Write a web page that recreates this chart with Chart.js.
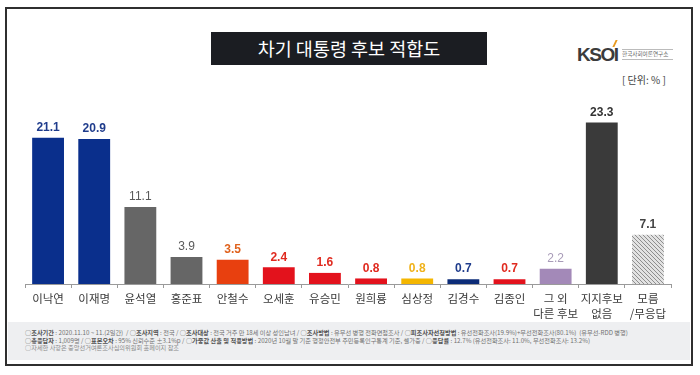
<!DOCTYPE html>
<html>
<head>
<meta charset="utf-8">
<script src="https://cdn.jsdelivr.net/npm/chart.js@4.4.1/dist/chart.umd.min.js"></script>
<style>
    body { margin: 0; width: 700px; height: 375px; background: #ffffff; overflow: hidden; font-family: "Noto Sans CJK KR", sans-serif; }
    #frame { position: absolute; left: 5px; top: 7px; width: 684px; height: 355px; border: 2px solid #2f2f2f; background: #ffffff; }
    #title { position: absolute; left: 211px; top: 32px; width: 276px; height: 33px; background: #1b1d22; color: #ffffff; font-size: 18.5px; line-height: 33px; text-align: center; }
    #logo { position: absolute; left: 577px; top: 45px; height: 20px; }
    #logo .big { position: absolute; left: 0; top: 0; font-family: "Liberation Sans", sans-serif; font-weight: bold; font-size: 19px; line-height: 19px; color: #3b3b3b; letter-spacing: -1.5px; }
    #logo .acc { position: absolute; left: 37px; top: -5px; width: 2px; height: 7px; background: #e89a1e; transform: skewX(-25deg); }
    #logo .small { position: absolute; left: 45px; top: 4px; width: 51px; font-size: 5.6px; line-height: 9px; color: #666666; border-top: 1px solid #bbbbbb; border-bottom: 1px solid #bbbbbb; white-space: nowrap; overflow: hidden; }
    #unit { position: absolute; left: 622px; top: 72px; font-size: 10px; color: #444444; }
    #footer { position: absolute; left: 8px; top: 322px; width: 682px; height: 38px; background: #eeeff1; }
    #footer div { position: absolute; left: 17px; font-size: 6.2px; line-height: 7px; color: #707070; white-space: nowrap; }
    #footer b { color: #505050; }
    #chart { position: absolute; left: 0; top: 0; }
</style>
</head>
<body>
<div id="frame"></div>
<div id="title">차기 대통령 후보 적합도</div>
<div id="logo"><span class="big">KSOI</span><span class="acc"></span><span class="small">한국사회여론연구소</span></div>
<div id="unit">[ 단위: % ]</div>
<div id="footer">
    <div style="top:7px">○<b>조사기간</b> : 2020.11.10 ~ 11.(2일간) &nbsp;/ ○<b>조사지역</b> : 전국 / ○<b>조사대상</b> : 전국 거주 만 18세 이상 성인남녀 / ○<b>조사방법</b> : 유무선 병행 전화면접조사 / ○<b>피조사자선정방법</b> : 유선전화조사(19.9%)+무선전화조사(80.1%) &nbsp;(유무선-RDD 병행)</div>
    <div style="top:14.5px">○<b>총응답자</b> : 1,009명 / ○<b>표본오차</b> : 95% 신뢰수준 ±3.1%p / ○<b>가중값 산출 및 적용방법</b> : 2020년 10월 말 기준 행정안전부 주민등록인구통계 기준, 셀가중 / ○<b>응답률</b> : 12.7% (유선전화조사: 11.0%, 무선전화조사: 13.2%)</div>
    <div style="top:22px; color:#8a8a8a">○자세한 사항은 중앙선거여론조사심의위원회 홈페이지 참조</div>
</div>
<canvas id="chart" width="700" height="375"></canvas>
<script>
// Data
const CANDIDATES = ["이낙연", "이재명", "윤석열", "홍준표", "안철수", "오세훈", "유승민",
                    "원희룡", "심상정", "김경수", "김종인", ["그 외", "다른 후보"], ["지지후보", "없음"], ["모름", "/무응답"]];
const FITNESS = [21.1, 20.9, 11.1, 3.9, 3.5, 2.4, 1.6, 0.8, 0.8, 0.7, 0.7, 2.2, 23.3, 7.1];

// Colors
const COLOR_BLUE    = "#0a2f8c";
const COLOR_GREY    = "#666666";
const COLOR_ORANGE  = "#e8400f";
const COLOR_RED     = "#e3121c";
const COLOR_YELLOW  = "#f4b600";
const COLOR_NAVY    = "#0c2c78";
const COLOR_PURPLE  = "#a389b8";
const COLOR_DARK    = "#3a3a3a";

// hatched fill for the last bar
function makeHatch() {
    var c = document.createElement("canvas");
    c.width = 4;
    c.height = 4;
    var ctx = c.getContext("2d");
    ctx.fillStyle = "#e2e2e2";
    ctx.fillRect(0, 0, 4, 4);
    ctx.fillStyle = "#8e8e8e";
    ctx.fillRect(0, 0, 1, 1);
    ctx.fillRect(2, 2, 1, 1);
    ctx.fillRect(1, 1, 1, 1);
    ctx.fillRect(3, 3, 1, 1);
    return ctx.createPattern(c, "repeat");
}

// value labels above bars
const valueLabels = {
    id: "valueLabels",
    afterDatasetsDraw(chart) {
        var ctx = chart.ctx;
        var meta = chart.getDatasetMeta(0);
        var ds = chart.data.datasets[0];
        ctx.save();
        ctx.textAlign = "center";
        ctx.textBaseline = "middle";
        meta.data.forEach(function (bar, i) {
            ctx.fillStyle = ds.labelColors[i];
            ctx.font = ds.labelBold[i] ? "bold 12px 'Liberation Sans'" : "12px 'Liberation Sans'";
            ctx.fillText(FITNESS[i].toFixed(1), bar.x, bar.y - 10);
        });
        ctx.restore();
    }
};

function createFitnessChart(canvasId) {
    var barColors = [COLOR_BLUE, COLOR_BLUE, COLOR_GREY, COLOR_GREY, COLOR_ORANGE, COLOR_RED, COLOR_RED,
                     COLOR_RED, COLOR_YELLOW, COLOR_NAVY, COLOR_RED, COLOR_PURPLE, COLOR_DARK, makeHatch()];
    var labelColors = ["#1f3c8c", "#1f3c8c", "#5a5a5a", "#5a5a5a", "#e0621d", "#e02a1f", "#e02a1f",
                       "#e02a1f", "#f0b21a", "#1f3c8c", "#e02a1f", "#a89bb8", "#333333", "#444444"];
    var labelBold = [true, true, false, false, true, true, true, true, true, true, true, false, true, true];

    return new Chart(canvasId, {
        type: "bar",
        data: {
            labels: CANDIDATES,
            datasets: [{
                data: FITNESS,
                backgroundColor: barColors,
                labelColors: labelColors,
                labelBold: labelBold,
                categoryPercentage: 1,
                barPercentage: 0.69
            }]
        },
        options: {
            responsive: false,
            animation: false,
            layout: { padding: { left: 25, right: 29, top: 76, bottom: 0 } },
            plugins: {
                legend: { display: false },
                tooltip: { enabled: false }
            },
            scales: {
                y: { display: false, min: 0, max: 30 },
                x: {
                    afterFit: function (scale) { scale.height = 91; },
                    grid: { drawOnChartArea: false, tickLength: 4, color: "#9a9a9a" },
                    border: { color: "#9a9a9a" },
                    ticks: {
                        padding: 3,
                        color: "#3a3a3a",
                        font: { family: "'Noto Sans CJK KR'", size: 11.5, lineHeight: 1.3 },
                        maxRotation: 0,
                        autoSkip: false
                    }
                }
            }
        },
        plugins: [valueLabels]
    });
}

createFitnessChart("chart");
</script>
</body>
</html>
